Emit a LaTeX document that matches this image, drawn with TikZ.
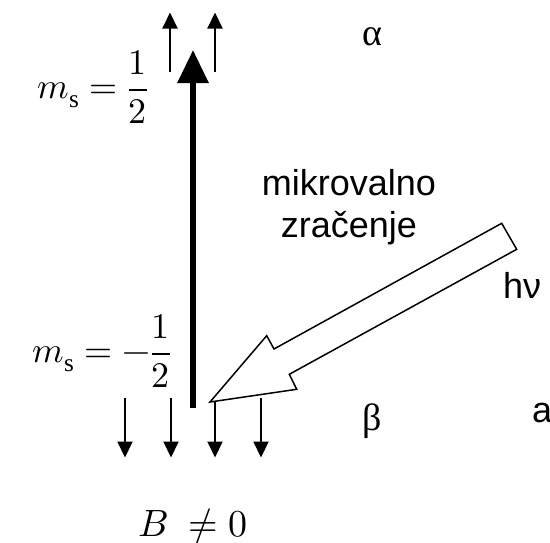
\documentclass[tikz,border=0pt]{standalone}
\usepackage{fontspec}
\usepackage{unicode-math}
\setmainfont{Liberation Serif}
\setmathfont{Latin Modern Math}
\newfontfamily\arialfont{Liberation Sans}
\usetikzlibrary{arrows.meta}

\begin{document}
\begin{tikzpicture}[x=1pt, y=-1pt,
    spin/.style={line width=2pt, -{Triangle[length=16pt, width=15pt]}},
    sanslabel/.style={font=\arialfont\fontsize{36}{42}\selectfont, inner sep=0pt},
    greeklabel/.style={font=\fontsize{38}{44}\selectfont, inner sep=0pt},
    mathlabel/.style={font=\fontsize{36}{42}\selectfont, inner sep=0pt}]
    \useasboundingbox (0,0) rectangle (550,542);

    % =========================================================
    % MAGNETIC MOMENT (THICK ARROW)
    % =========================================================
    \draw[line width=6pt, -{Triangle[length=33pt, width=30pt]}] (193,408) -- (193,50);

    % =========================================================
    % SPINS ALPHA (UP) AND BETA (DOWN)
    % =========================================================
    \foreach \x in {170,215} {
        \draw[spin] (\x,72) -- (\x,12.5);
    }
    \foreach \x in {125,171,215,261} {
        \draw[spin] (\x,398) -- (\x,457.5);
    }

    % =========================================================
    % MICROWAVE RADIATION (HOLLOW ARROW)
    % =========================================================
    \draw[line width=1.5pt, line join=miter, fill=white]
        (501.7,223.3) -- (274,349) -- (266.7,335.7) -- (210,402)
        -- (296.7,389.3) -- (289.3,374.3) -- (516.7,249.3) -- cycle;

    % =========================================================
    % LABELS
    % =========================================================
    \node[mathlabel, anchor=east] (msup) at (148,87) {$\displaystyle m_\mathrm{s}=\frac{1}{2}$};
    \node[mathlabel, anchor=east] (msdown) at (171,351) {$\displaystyle m_\mathrm{s}=-\frac{1}{2}$};
    \node[greeklabel, anchor=base] (alpha) at (372,45) {α};
    \node[greeklabel, anchor=base] (beta) at (372,430) {β};
    \node[sanslabel, align=center, anchor=base] (micro) at (349,237) {mikrovalno\\zračenje};
    \node[sanslabel, anchor=base west] (hnu) at (503,298) {hν};
    \node[sanslabel, anchor=base west] (aa) at (532,422) {a};
    \node[font=\fontsize{38}{44}\selectfont, inner sep=0pt, anchor=base] (field) at (193,536) {$B\ \neq 0$};
\end{tikzpicture}
\end{document}
